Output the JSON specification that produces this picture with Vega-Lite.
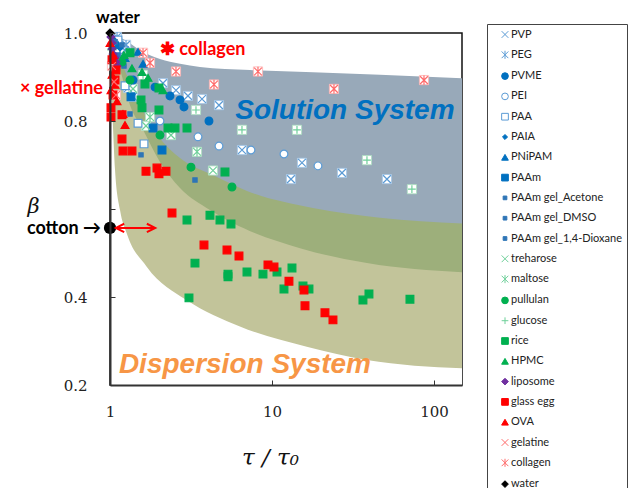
{
  "$schema": "https://vega.github.io/schema/vega-lite/v6.json",
  "width": 352,
  "height": 352,
  "autosize": {"type": "none"},
  "padding": {"left": 110, "top": 33, "right": 169, "bottom": 103},
  "background": "white",
  "config": {"view": {"stroke": "#111", "strokeWidth": 1.5}},
  "layer": [
    {
      "data": {"values": [
        {"tau": 1, "beta": 1.0}, {"tau": 1.238, "beta": 0.984}, {"tau": 1.532, "beta": 0.961}, {"tau": 2.035, "beta": 0.941},
        {"tau": 2.705, "beta": 0.93}, {"tau": 3.594, "beta": 0.923}, {"tau": 7.32, "beta": 0.916}, {"tau": 17.9, "beta": 0.911},
        {"tau": 46.4, "beta": 0.905}, {"tau": 149, "beta": 0.897}
      ]},
      "mark": {"type": "area", "color": "#98a9b9", "opacity": 1, "interpolate": "monotone"},
      "encoding": {
        "x": {"field": "tau", "type": "quantitative",
          "scale": {"type": "log", "domain": [1, 149], "nice": false},
          "axis": {"title": "τ / τ₀", "values": [1, 10, 100], "format": "~g", "grid": false,
            "labelFont": "DejaVu Serif", "labelFontSize": 15, "labelColor": "#222", "labelPadding": 24, "labelFlush": false,
            "tickSize": -5, "tickColor": "#333", "domainColor": "#333", "domainWidth": 2, "zindex": 1,
            "titleFont": "DejaVu Serif", "titleFontStyle": "italic", "titleFontWeight": "normal", "titleFontSize": 23,
            "titleColor": "#111", "titleX": 160, "titleY": 72, "titleBaseline": "middle", "titleAlign": "center"}},
        "y": {"field": "beta", "type": "quantitative",
          "scale": {"domain": [0.2, 1.0], "zero": false, "nice": false},
          "axis": {"title": "β", "values": [0.2, 0.4, 0.6, 0.8, 1.0], "labelExpr": "abs(datum.value - 0.6) < 0.01 ? '' : format(datum.value, '.1f')", "grid": false,
            "labelFont": "DejaVu Serif", "labelFontSize": 15, "labelColor": "#222", "labelPadding": 28, "labelFlush": false,
            "tickSize": -5, "tickColor": "#333", "domainColor": "#333", "domainWidth": 2, "zindex": 1,
            "titleFont": "DejaVu Serif", "titleFontStyle": "italic", "titleFontWeight": "normal", "titleFontSize": 21,
            "titleColor": "#111", "titleAngle": 0, "titleX": -77, "titleY": 173, "titleBaseline": "middle", "titleAlign": "center"}},
        "y2": {"datum": 0.2}
      }
    },
    {
      "data": {"values": [
        {"tau": 1, "beta": 1.0}, {"tau": 1.044, "beta": 0.973}, {"tau": 1.153, "beta": 0.939}, {"tau": 1.532, "beta": 0.836},
        {"tau": 2.035, "beta": 0.761}, {"tau": 2.705, "beta": 0.716}, {"tau": 4.32, "beta": 0.677}, {"tau": 7.01, "beta": 0.641},
        {"tau": 17.9, "beta": 0.602}, {"tau": 46.4, "beta": 0.58}, {"tau": 149, "beta": 0.567}
      ]},
      "mark": {"type": "area", "color": "#9daf7b", "opacity": 1, "interpolate": "monotone"},
      "encoding": {"x": {"field": "tau", "type": "quantitative"}, "y": {"field": "beta", "type": "quantitative"}, "y2": {"datum": 0.2}}
    },
    {
      "data": {"values": [
        {"tau": 1, "beta": 1.0}, {"tau": 1.044, "beta": 0.95}, {"tau": 1.153, "beta": 0.916}, {"tau": 1.329, "beta": 0.836},
        {"tau": 1.599, "beta": 0.78}, {"tau": 2.035, "beta": 0.707}, {"tau": 2.705, "beta": 0.648}, {"tau": 4.14, "beta": 0.598},
        {"tau": 5.74, "beta": 0.568}, {"tau": 14.9, "beta": 0.511}, {"tau": 38.6, "beta": 0.477}, {"tau": 149, "beta": 0.456}
      ]},
      "mark": {"type": "area", "color": "#c2c49a", "opacity": 1, "interpolate": "monotone"},
      "encoding": {"x": {"field": "tau", "type": "quantitative"}, "y": {"field": "beta", "type": "quantitative"}, "y2": {"datum": 0.2}}
    },
    {
      "data": {"values": [
        {"tau": 1, "beta": 1.0}, {"tau": 1.0143, "beta": 0.893}, {"tau": 1.039, "beta": 0.802}, {"tau": 1.074, "beta": 0.689},
        {"tau": 1.153, "beta": 0.598}, {"tau": 1.268, "beta": 0.545}, {"tau": 1.685, "beta": 0.469}, {"tau": 2.97, "beta": 0.393},
        {"tau": 6.34, "beta": 0.333}, {"tau": 16.4, "beta": 0.287}, {"tau": 38.5, "beta": 0.257}, {"tau": 149, "beta": 0.238}
      ]},
      "mark": {"type": "area", "color": "#ffffff", "opacity": 1, "interpolate": "monotone"},
      "encoding": {"x": {"field": "tau", "type": "quantitative"}, "y": {"field": "beta", "type": "quantitative"}, "y2": {"datum": 0.2}}
    },
    {
      "data": {"name": "pts"},
      "transform": [{"filter": {"field": "series", "oneOf": ["PVP", "PEG"]}}],
      "mark": {"type": "point", "shape": "square", "filled": true, "fill": "#ffffff", "stroke": "#9dc3e6", "strokeWidth": 0.8, "size": 85, "opacity": 1},
      "encoding": {"x": {"field": "tau", "type": "quantitative"}, "y": {"field": "beta", "type": "quantitative"}}
    },
    {
      "data": {"name": "pts"},
      "transform": [{"filter": {"field": "series", "oneOf": ["treharose", "maltose", "glucose"]}}],
      "mark": {"type": "point", "shape": "square", "filled": true, "fill": "#ffffff", "stroke": "#a9dfbf", "strokeWidth": 0.8, "size": 85, "opacity": 1},
      "encoding": {"x": {"field": "tau", "type": "quantitative"}, "y": {"field": "beta", "type": "quantitative"}}
    },
    {
      "data": {"name": "pts"},
      "transform": [{"filter": {"field": "series", "oneOf": ["gelatine", "collagen"]}}],
      "mark": {"type": "point", "shape": "square", "filled": true, "fill": "#ffffff", "stroke": "#ffb0b0", "strokeWidth": 0.8, "size": 85, "opacity": 1},
      "encoding": {"x": {"field": "tau", "type": "quantitative"}, "y": {"field": "beta", "type": "quantitative"}}
    },
    {
      "data": {"name": "pts"},
      "mark": {"type": "point", "filled": true, "opacity": 1, "size": 60, "strokeWidth": 1.2},
      "encoding": {
        "x": {"field": "tau", "type": "quantitative"},
        "y": {"field": "beta", "type": "quantitative"},
        "shape": {"field": "series", "type": "nominal",
          "scale": {"domain": ["PVP", "PEG", "PVME", "PEI", "PAA", "PAIA", "PNiPAM", "PAAm", "PAAm gel_Acetone", "PAAm gel_DMSO", "PAAm gel_1,4-Dioxane", "treharose", "maltose", "pullulan", "glucose", "rice", "HPMC", "liposome", "glass egg", "OVA", "gelatine", "collagen", "water"],
            "range": ["M-1,-1L1,1M-1,1L1,-1", "M-1,-1L1,1M-1,1L1,-1M0,-1.2L0,1.2", "circle", "circle", "square", "M0,-0.75L0.75,0L0,0.75L-0.75,0Z", "triangle-up", "square", "M-0.55,-0.55L0.55,-0.55L0.55,0.55L-0.55,0.55Z", "M-0.55,-0.55L0.55,-0.55L0.55,0.55L-0.55,0.55Z", "M-0.55,-0.55L0.55,-0.55L0.55,0.55L-0.55,0.55Z", "M-1,-1L1,1M-1,1L1,-1", "M-1,-1L1,1M-1,1L1,-1M0,-1.2L0,1.2", "circle", "M-1,0L1,0M0,-1L0,1", "square", "triangle-up", "diamond", "square", "triangle-up", "M-1,-1L1,1M-1,1L1,-1", "M-1,-1L1,1M-1,1L1,-1M0,-1.2L0,1.2", "diamond"]},
          "legend": {"title": null, "orient": "none", "legendX": 377, "legendY": -9, "strokeColor": "#444", "padding": 5, "symbolOffset": 7.5,
            "labelFont": "Lato", "labelFontSize": 11, "labelColor": "#222", "rowPadding": 8.3, "symbolSize": 45, "symbolStrokeWidth": 1, "labelOffset": 0.5}},
        "fill": {"field": "series", "type": "nominal",
          "scale": {"domain": ["PVP", "PEG", "PVME", "PEI", "PAA", "PAIA", "PNiPAM", "PAAm", "PAAm gel_Acetone", "PAAm gel_DMSO", "PAAm gel_1,4-Dioxane", "treharose", "maltose", "pullulan", "glucose", "rice", "HPMC", "liposome", "glass egg", "OVA", "gelatine", "collagen", "water"],
            "range": ["#5b9bd5", "#5b9bd5", "#0070c0", "#ffffff", "#ffffff", "#0070c0", "#0070c0", "#0070c0", "#2e75b6", "#2e75b6", "#2e75b6", "#6fd09a", "#6fd09a", "#00b050", "#6fd09a", "#00b050", "#00b050", "#7030a0", "#ff0000", "#ff0000", "#ff6b6b", "#ff6b6b", "#000000"]},
          "legend": {"title": null, "orient": "none", "legendX": 377, "legendY": -9, "strokeColor": "#444", "padding": 5, "symbolOffset": 7.5,
            "labelFont": "Lato", "labelFontSize": 11, "labelColor": "#222", "rowPadding": 8.3, "symbolSize": 45, "symbolStrokeWidth": 1, "labelOffset": 0.5}},
        "stroke": {"field": "series", "type": "nominal",
          "scale": {"domain": ["PVP", "PEG", "PVME", "PEI", "PAA", "PAIA", "PNiPAM", "PAAm", "PAAm gel_Acetone", "PAAm gel_DMSO", "PAAm gel_1,4-Dioxane", "treharose", "maltose", "pullulan", "glucose", "rice", "HPMC", "liposome", "glass egg", "OVA", "gelatine", "collagen", "water"],
            "range": ["#5b9bd5", "#5b9bd5", "#0070c0", "#5b9bd5", "#5b9bd5", "#0070c0", "#0070c0", "#0070c0", "#2e75b6", "#2e75b6", "#2e75b6", "#6fd09a", "#6fd09a", "#00b050", "#6fd09a", "#00b050", "#00b050", "#7030a0", "#ff0000", "#ff0000", "#ff6b6b", "#ff6b6b", "#000000"]},
          "legend": {"title": null, "orient": "none", "legendX": 377, "legendY": -9, "strokeColor": "#444", "padding": 5, "symbolOffset": 7.5,
            "labelFont": "Lato", "labelFontSize": 11, "labelColor": "#222", "rowPadding": 8.3, "symbolSize": 45, "symbolStrokeWidth": 1, "labelOffset": 0.5}}
      }
    },
    {
      "data": {"values": [{"tau": 1, "beta": 0.557}]},
      "mark": {"type": "point", "shape": "circle", "filled": true, "color": "#000000", "size": 150, "opacity": 1},
      "encoding": {"x": {"field": "tau", "type": "quantitative"}, "y": {"field": "beta", "type": "quantitative"}}
    },
    {
      "data": {"values": [{"tau": 1.089, "tau2": 1.896, "beta": 0.557}]},
      "mark": {"type": "rule", "color": "#ff0000", "strokeWidth": 2},
      "encoding": {"x": {"field": "tau", "type": "quantitative"}, "x2": {"field": "tau2"}, "y": {"field": "beta", "type": "quantitative"}}
    },
    {
      "data": {"values": [{"tau": 1.153, "beta": 0.557}]},
      "mark": {"type": "point", "shape": "M1,-1L-1,0L1,1", "filled": false, "stroke": "#ff0000", "strokeWidth": 2, "size": 70, "opacity": 1},
      "encoding": {"x": {"field": "tau", "type": "quantitative"}, "y": {"field": "beta", "type": "quantitative"}}
    },
    {
      "data": {"values": [{"tau": 1.792, "beta": 0.557}]},
      "mark": {"type": "point", "shape": "M-1,-1L1,0L-1,1", "filled": false, "stroke": "#ff0000", "strokeWidth": 2, "size": 70, "opacity": 1},
      "encoding": {"x": {"field": "tau", "type": "quantitative"}, "y": {"field": "beta", "type": "quantitative"}}
    },
    {
      "data": {"values": [{"tau": 1.12, "beta": 1.034, "label": "water"}]},
      "mark": {"type": "text", "font": "Lato", "fontWeight": "bold", "fontSize": 17, "color": "#000000", "align": "center", "baseline": "middle"},
      "encoding": {"x": {"field": "tau", "type": "quantitative"}, "y": {"field": "beta", "type": "quantitative"}, "text": {"field": "label"}}
    },
    {
      "data": {"values": [{"tau": 0.88, "beta": 0.555, "label": "cotton →"}]},
      "mark": {"type": "text", "font": "Lato", "fontWeight": "bold", "fontSize": 18, "color": "#000000", "align": "right", "baseline": "middle"},
      "encoding": {"x": {"field": "tau", "type": "quantitative"}, "y": {"field": "beta", "type": "quantitative"}, "text": {"field": "label"}}
    },
    {
      "data": {"values": [{"tau": 2.035, "beta": 0.961, "label": "✱ collagen"}]},
      "mark": {"type": "text", "font": "Lato", "fontWeight": "bold", "fontSize": 18, "color": "#ff0000", "align": "left", "baseline": "middle"},
      "encoding": {"x": {"field": "tau", "type": "quantitative"}, "y": {"field": "beta", "type": "quantitative"}, "text": {"field": "label"}}
    },
    {
      "data": {"values": [{"tau": 0.905, "beta": 0.873, "label": "× gellatine"}]},
      "mark": {"type": "text", "font": "Lato", "fontWeight": "bold", "fontSize": 18, "color": "#ff0000", "align": "right", "baseline": "middle"},
      "encoding": {"x": {"field": "tau", "type": "quantitative"}, "y": {"field": "beta", "type": "quantitative"}, "text": {"field": "label"}}
    },
    {
      "data": {"values": [{"tau": 28.2, "beta": 0.805, "label": "Solution System"}]},
      "mark": {"type": "text", "font": "Liberation Sans", "fontWeight": "bold", "fontStyle": "italic", "fontSize": 28, "color": "#0070c0", "align": "center", "baseline": "alphabetic"},
      "encoding": {"x": {"field": "tau", "type": "quantitative"}, "y": {"field": "beta", "type": "quantitative"}, "text": {"field": "label"}}
    },
    {
      "data": {"values": [{"tau": 6.81, "beta": 0.227, "label": "Dispersion System"}]},
      "mark": {"type": "text", "font": "Liberation Sans", "fontWeight": "bold", "fontStyle": "italic", "fontSize": 28, "color": "#f79646", "align": "center", "baseline": "alphabetic"},
      "encoding": {"x": {"field": "tau", "type": "quantitative"}, "y": {"field": "beta", "type": "quantitative"}, "text": {"field": "label"}}
    }
  ],
  "datasets": {
    "pts": [
      {"series": "PVP", "tau": 1.238, "beta": 0.961}, {"series": "PVP", "tau": 1.292, "beta": 0.875}, {"series": "PVP", "tau": 1.387, "beta": 0.855},
      {"series": "PVP", "tau": 2.124, "beta": 0.886}, {"series": "PVP", "tau": 2.555, "beta": 0.87}, {"series": "PVP", "tau": 3.03, "beta": 0.857},
      {"series": "PVP", "tau": 3.698, "beta": 0.85}, {"series": "PVP", "tau": 4.708, "beta": 0.836}, {"series": "PVP", "tau": 6.529, "beta": 0.734},
      {"series": "PVP", "tau": 15.32, "beta": 0.705}, {"series": "PVP", "tau": 13.1, "beta": 0.668}, {"series": "PVP", "tau": 27.05, "beta": 0.682},
      {"series": "PVP", "tau": 51.27, "beta": 0.668},
      {"series": "PEG", "tau": 1.105, "beta": 0.991}, {"series": "PEG", "tau": 1.256, "beta": 0.973},
      {"series": "PVME", "tau": 1.387, "beta": 0.893}, {"series": "PVME", "tau": 1.896, "beta": 0.877}, {"series": "PVME", "tau": 2.346, "beta": 0.857},
      {"series": "PVME", "tau": 2.705, "beta": 0.848}, {"series": "PVME", "tau": 2.862, "beta": 0.832}, {"series": "PVME", "tau": 4.084, "beta": 0.8},
      {"series": "PEI", "tau": 2.035, "beta": 0.8}, {"series": "PEI", "tau": 3.494, "beta": 0.764}, {"series": "PEI", "tau": 4.708, "beta": 0.743},
      {"series": "PEI", "tau": 7.42, "beta": 0.734}, {"series": "PEI", "tau": 11.86, "beta": 0.725}, {"series": "PEI", "tau": 19.23, "beta": 0.698},
      {"series": "PAA", "tau": 1.12, "beta": 0.984}, {"series": "PAA", "tau": 1.089, "beta": 0.957}, {"series": "PAA", "tau": 1.238, "beta": 0.88},
      {"series": "PAA", "tau": 1.489, "beta": 0.795}, {"series": "PAA", "tau": 1.622, "beta": 0.748},
      {"series": "PAIA", "tau": 1.059, "beta": 0.984}, {"series": "PAIA", "tau": 1.153, "beta": 0.966},
      {"series": "PNiPAM", "tau": 1.12, "beta": 0.973}, {"series": "PNiPAM", "tau": 1.238, "beta": 0.943}, {"series": "PNiPAM", "tau": 1.489, "beta": 0.957},
      {"series": "PNiPAM", "tau": 1.599, "beta": 0.93},
      {"series": "PAAm", "tau": 1.348, "beta": 0.855}, {"series": "PAAm", "tau": 1.843, "beta": 0.784}, {"series": "PAAm", "tau": 2.094, "beta": 0.734},
      {"series": "PAAm gel_Acetone", "tau": 1.329, "beta": 0.816}, {"series": "PAAm gel_Acetone", "tau": 1.554, "beta": 0.723}, {"series": "PAAm gel_Acetone", "tau": 3.347, "beta": 0.666},
      {"series": "PAAm gel_DMSO", "tau": 1.186, "beta": 0.973}, {"series": "PAAm gel_DMSO", "tau": 1.12, "beta": 0.95},
      {"series": "PAAm gel_1,4-Dioxane", "tau": 1.074, "beta": 0.98}, {"series": "PAAm gel_1,4-Dioxane", "tau": 1.22, "beta": 0.925},
      {"series": "treharose", "tau": 1.387, "beta": 0.873}, {"series": "treharose", "tau": 1.668, "beta": 0.789}, {"series": "treharose", "tau": 2.379, "beta": 0.768},
      {"series": "treharose", "tau": 4.323, "beta": 0.6875},
      {"series": "maltose", "tau": 1.766, "beta": 0.809}, {"series": "maltose", "tau": 3.444, "beta": 0.73},
      {"series": "pullulan", "tau": 1.186, "beta": 0.934}, {"series": "pullulan", "tau": 1.329, "beta": 0.893}, {"series": "pullulan", "tau": 2.035, "beta": 0.768},
      {"series": "pullulan", "tau": 3.162, "beta": 0.695}, {"series": "pullulan", "tau": 5.664, "beta": 0.65},
      {"series": "glucose", "tau": 1.599, "beta": 0.905}, {"series": "glucose", "tau": 3.395, "beta": 0.825}, {"series": "glucose", "tau": 6.529, "beta": 0.78},
      {"series": "glucose", "tau": 14.27, "beta": 0.78}, {"series": "glucose", "tau": 38.59, "beta": 0.711}, {"series": "glucose", "tau": 73.1, "beta": 0.645},
      {"series": "rice", "tau": 1.329, "beta": 0.955}, {"series": "rice", "tau": 1.644, "beta": 0.884}, {"series": "rice", "tau": 2.006, "beta": 0.875},
      {"series": "rice", "tau": 1.554, "beta": 0.848}, {"series": "rice", "tau": 2.006, "beta": 0.825}, {"series": "rice", "tau": 1.576, "beta": 0.83},
      {"series": "rice", "tau": 2.28, "beta": 0.784}, {"series": "rice", "tau": 2.519, "beta": 0.784}, {"series": "rice", "tau": 2.988, "beta": 0.784},
      {"series": "rice", "tau": 5.127, "beta": 0.684}, {"series": "rice", "tau": 2.988, "beta": 0.575}, {"series": "rice", "tau": 4.142, "beta": 0.586},
      {"series": "rice", "tau": 4.775, "beta": 0.575}, {"series": "rice", "tau": 5.584, "beta": 0.566}, {"series": "rice", "tau": 3.347, "beta": 0.477},
      {"series": "rice", "tau": 5.351, "beta": 0.452}, {"series": "rice", "tau": 5.351, "beta": 0.446}, {"series": "rice", "tau": 7.011, "beta": 0.457},
      {"series": "rice", "tau": 8.8, "beta": 0.452}, {"series": "rice", "tau": 10.74, "beta": 0.457}, {"series": "rice", "tau": 13.29, "beta": 0.466},
      {"series": "rice", "tau": 11.86, "beta": 0.418}, {"series": "rice", "tau": 15.54, "beta": 0.425}, {"series": "rice", "tau": 16.92, "beta": 0.418},
      {"series": "rice", "tau": 36.45, "beta": 0.393}, {"series": "rice", "tau": 39.7, "beta": 0.407}, {"series": "rice", "tau": 71.1, "beta": 0.395},
      {"series": "rice", "tau": 3.073, "beta": 0.398},
      {"series": "HPMC", "tau": 1.029, "beta": 0.97}, {"series": "HPMC", "tau": 1.22, "beta": 0.95}, {"series": "HPMC", "tau": 1.367, "beta": 0.92},
      {"series": "HPMC", "tau": 1.576, "beta": 0.911}, {"series": "HPMC", "tau": 1.717, "beta": 0.898}, {"series": "HPMC", "tau": 2.124, "beta": 0.87},
      {"series": "liposome", "tau": 1.014, "beta": 0.991}, {"series": "liposome", "tau": 1.029, "beta": 0.977}, {"series": "liposome", "tau": 1.029, "beta": 0.964},
      {"series": "liposome", "tau": 1.044, "beta": 0.952}, {"series": "liposome", "tau": 1.074, "beta": 0.943}, {"series": "liposome", "tau": 1.089, "beta": 0.934},
      {"series": "liposome", "tau": 1.105, "beta": 0.925},
      {"series": "glass egg", "tau": 2.414, "beta": 0.591}, {"series": "glass egg", "tau": 3.804, "beta": 0.518}, {"series": "glass egg", "tau": 5.276, "beta": 0.507},
      {"series": "glass egg", "tau": 6.256, "beta": 0.493}, {"series": "glass egg", "tau": 9.447, "beta": 0.473}, {"series": "glass egg", "tau": 10.29, "beta": 0.468},
      {"series": "glass egg", "tau": 12.73, "beta": 0.436}, {"series": "glass egg", "tau": 15.76, "beta": 0.416}, {"series": "glass egg", "tau": 15.99, "beta": 0.38},
      {"series": "glass egg", "tau": 21.24, "beta": 0.364}, {"series": "glass egg", "tau": 23.8, "beta": 0.348}, {"series": "glass egg", "tau": 1.186, "beta": 0.759},
      {"series": "glass egg", "tau": 1.203, "beta": 0.732}, {"series": "glass egg", "tau": 1.367, "beta": 0.732}, {"series": "glass egg", "tau": 1.668, "beta": 0.686},
      {"series": "glass egg", "tau": 1.95, "beta": 0.693}, {"series": "glass egg", "tau": 2.006, "beta": 0.68}, {"series": "glass egg", "tau": 2.216, "beta": 0.686},
      {"series": "glass egg", "tau": 1.014, "beta": 0.83}, {"series": "glass egg", "tau": 1.014, "beta": 0.809}, {"series": "glass egg", "tau": 1.186, "beta": 0.814},
      {"series": "glass egg", "tau": 1.044, "beta": 0.859}, {"series": "glass egg", "tau": 1.074, "beta": 0.893}, {"series": "glass egg", "tau": 1.029, "beta": 0.939},
      {"series": "glass egg", "tau": 1.089, "beta": 0.916},
      {"series": "OVA", "tau": 1.0, "beta": 0.977}, {"series": "OVA", "tau": 1.044, "beta": 0.95}, {"series": "OVA", "tau": 1.074, "beta": 0.882},
      {"series": "OVA", "tau": 1.105, "beta": 0.845}, {"series": "OVA", "tau": 1.203, "beta": 0.816}, {"series": "OVA", "tau": 1.238, "beta": 0.791},
      {"series": "OVA", "tau": 1.029, "beta": 0.905}, {"series": "OVA", "tau": 1.014, "beta": 0.87},
      {"series": "gelatine", "tau": 1.029, "beta": 0.925}, {"series": "gelatine", "tau": 1.059, "beta": 0.889}, {"series": "gelatine", "tau": 1.089, "beta": 0.859},
      {"series": "collagen", "tau": 1.599, "beta": 0.955}, {"series": "collagen", "tau": 1.766, "beta": 0.932}, {"series": "collagen", "tau": 2.555, "beta": 0.9125},
      {"series": "collagen", "tau": 4.385, "beta": 0.883}, {"series": "collagen", "tau": 8.196, "beta": 0.9125}, {"series": "collagen", "tau": 24.14, "beta": 0.873},
      {"series": "collagen", "tau": 86.8, "beta": 0.893},
      {"series": "water", "tau": 1.0, "beta": 1.0}
    ]
  }
}
